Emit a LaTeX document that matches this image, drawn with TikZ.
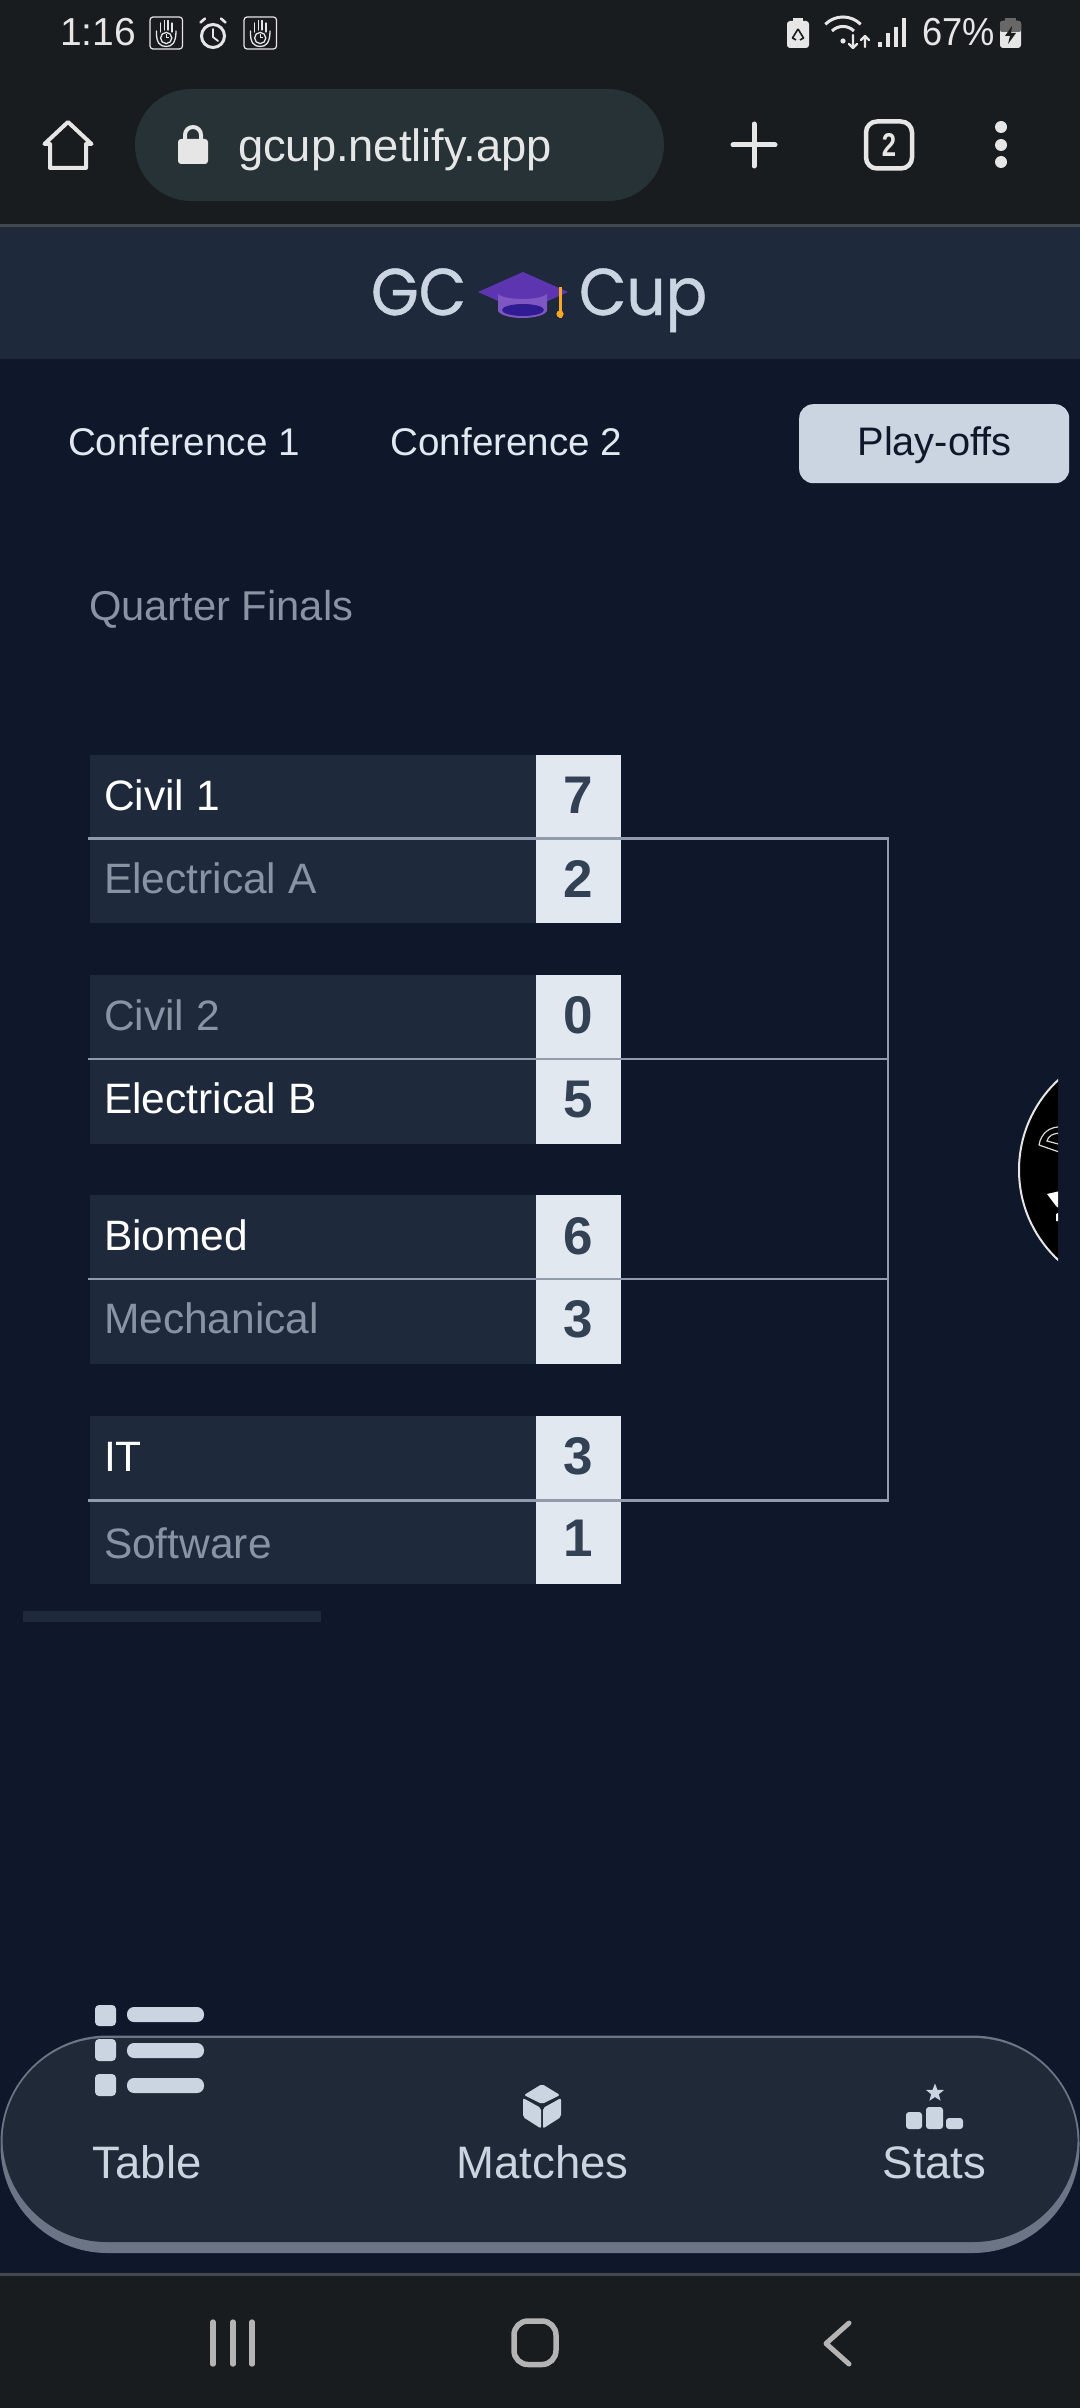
\documentclass[tikz,border=0pt]{standalone}
\usepackage{graphicx}
\usepackage{fontspec}
\setmainfont{Liberation Sans}
\newfontfamily\titlefont[FakeBold=0.7]{Poppins}
\newcommand{\fsz}[1]{\fontsize{#1}{#1}\selectfont}
\definecolor{barbg}{HTML}{191C1E}
\definecolor{urlbg}{HTML}{263236}
\definecolor{pagebg}{HTML}{0F172A}
\definecolor{panel}{HTML}{1E293B}
\definecolor{navbg}{HTML}{1F2937}
\definecolor{slatelt}{HTML}{CBD5E1}
\definecolor{scorebg}{HTML}{E2E8F0}
\definecolor{scoreink}{HTML}{334155}
\definecolor{dim}{HTML}{8A93A3}
\definecolor{rule}{HTML}{929BAB}
\definecolor{sep}{HTML}{41484E}
\definecolor{navedge}{HTML}{6B7585}
\definecolor{syswhite}{HTML}{E6E6E6}
\definecolor{sysgrey}{HTML}{B4B4B4}
\definecolor{capdark}{HTML}{5E35B1}
\definecolor{capmid}{HTML}{7E57C2}
\definecolor{capink}{HTML}{311B92}
\definecolor{tassel}{HTML}{F9A825}
\tikzset{
  txt/.style={anchor=base west,inner sep=0pt,outer sep=0pt},
  mid/.style={anchor=base,inner sep=0pt,outer sep=0pt},
  namebox/.style={anchor=north west,fill=panel,inner sep=0pt,outer sep=0pt,minimum width=446pt},
  scorebox/.style={anchor=north west,fill=scorebg,inner sep=0pt,outer sep=0pt,minimum width=85pt},
  teamfont/.style={font=\fsz{42.5}},
  win/.style={txt,teamfont,text=white},
  lose/.style={txt,teamfont,text=dim},
  score/.style={mid,font=\fsz{53}\bfseries,text=scoreink},
  tab/.style={txt,font=\fsz{38.6},text=scorebg},
  navlabel/.style={mid,font=\fsz{45.5},text=slatelt},
  bline/.style={draw=rule,line width=2.8pt},
  sysline/.style={draw=syswhite,line cap=round,line join=round},
  softkey/.style={draw=sysgrey,line cap=round,line join=round}
}
% id, top, height, label style, label, label baseline, score, score baseline
\newcommand{\teamrow}[8]{%
  \node[namebox,minimum height=#3 pt] (n#1) at (90,#2) {};
  \node[scorebox,minimum height=#3 pt] (s#1) at (536,#2) {};
  \node[#4] (t#1) at (104,#6) {#5};
  \node[score] (v#1) at (578.5,#8) {#7};
}
\newcommand{\handicon}[1]{%
  \begin{scope}[shift={(#1,0)}]
    \draw[syswhite,line width=1.2pt,rounded corners=3pt] (0,17) rectangle (32.5,49);
    \draw[syswhite,line width=1.3pt,line cap=round] (10.5,32) -- (10.5,23) (14.5,30) -- (14.5,20.5) (18,30) -- (18,20.5) (22,32) -- (22,23);
    \draw[syswhite,line width=1.3pt] (16.2,38) circle (5.6);
    \draw[syswhite,line width=1pt] (16.2,34.5) -- (16.2,38) -- (19,38);
    \draw[syswhite,line width=1.3pt,line cap=round] (6.5,31) .. controls (6,43) and (10,46.5) .. (16.2,46.5) .. controls (22,46.5) and (26,43) .. (26,31);
  \end{scope}}
\begin{document}
\begin{tikzpicture}[x=1pt,y=-1pt]
\useasboundingbox (0,0) rectangle (1080,2408);
% backgrounds
\fill[pagebg] (0,0) rectangle (1080,2408);
\fill[barbg] (0,0) rectangle (1080,224);
\fill[sep] (0,224) rectangle (1080,227);
\fill[panel] (0,227) rectangle (1080,359);
\fill[barbg] (0,2273) rectangle (1080,2408);
\fill[sep] (0,2273) rectangle (1080,2276);
% status bar
\node[txt,font=\fsz{39},text=syswhite] (clock) at (60,46) {1:16};
\handicon{150}
\handicon{244}
\draw[syswhite,line width=3pt] (213,36) circle (11.5);
\draw[syswhite,line width=1.8pt,line cap=round] (213,29) -- (213,37) -- (218,41);
\draw[syswhite,line width=2.6pt,line cap=round] (200.5,22.5) -- (205,18.5) (225.5,22.5) -- (221,18.5);
% right status icons
\fill[syswhite,rounded corners=3pt] (787,21) rectangle (809,48);
\fill[syswhite] (793,18) rectangle (803,22);
\draw[barbg,line width=1.6pt,line join=round] (798,29) -- (792.5,38) -- (796,40) (798,29) -- (803.5,38) -- (800,40);
\draw[syswhite,line width=3pt] (825.3,24.3) arc[start angle=-135,end angle=-45,radius=25];
\draw[syswhite,line width=3pt] (832,31) arc[start angle=-135,end angle=-45,radius=15.5];
\fill[syswhite] (843,41) circle (2.6);
\draw[sysline,line width=2.4pt] (853,35) -- (853,48) (849,44) -- (853,48) -- (857,44);
\draw[sysline,line width=2.4pt] (865,47) -- (865,36) (861,40) -- (865,36) -- (869,40);
\draw[sysline,line width=3.6pt,line cap=butt] (880,42) -- (880,47) (888,33) -- (888,47) (896,27) -- (896,47) (904,18) -- (904,47);
\node[txt,font=\fsz{39},text=syswhite] (batt) at (922,46) {\scalebox{0.93}[1]{67\%}};
\fill[syswhite,rounded corners=3pt] (1000,21) rectangle (1021,48);
\fill[black!55!syswhite,rounded corners=2pt] (1000,21) rectangle (1021,32);
\fill[black!55!syswhite] (1005,18) rectangle (1016,22);
\fill[barbg] (1012,26) -- (1005,36) -- (1010,36) -- (1008,44) -- (1016,33) -- (1011,33) -- cycle;
% browser bar
\draw[syswhite,line width=4pt,line join=round] (68,122) -- (44.5,144) -- (50,144) -- (50,168) -- (86,168) -- (86,144) -- (91.5,144) -- cycle;
\fill[urlbg,rounded corners=56pt] (135,89) rectangle (664,201);
\fill[syswhite,rounded corners=3pt] (178,139) rectangle (208,164);
\draw[syswhite,line width=4pt] (185,141) -- (185,135) arc[start angle=180,end angle=360,radius=8] -- (201,141);
\node[txt,font=\fsz{45.3},text=syswhite] (url) at (238,162) {gcup.netlify.app};
\draw[sysline,line width=5pt] (754,124) -- (754,166) (733,145) -- (775,145);
\draw[syswhite,line width=4.5pt,rounded corners=11pt] (866,121.5) rectangle (912,168.5);
\node[mid,font=\fsz{33}\bfseries,text=syswhite] (tabs) at (889,157) {\scalebox{0.78}[1]{2}};
\fill[syswhite] (1001,127) circle (6) (1001,145) circle (6) (1001,162) circle (6);
% title
\node[txt,font=\titlefont\fsz{66},text=slatelt] (gc) at (371,315) {\scalebox{0.93}[1]{GC}};
\node[txt,font=\titlefont\fsz{66},text=slatelt] (cup) at (579,315) {\scalebox{0.93}[1]{Cup}};
\fill[capdark] (478,292) -- (523,272) -- (568,292) -- (523,312) -- cycle;
\fill[capmid] (498,293) arc[start angle=180,end angle=360,x radius=24.5,y radius=-6] -- (547,310) arc[start angle=0,end angle=180,x radius=24.5,y radius=8] -- cycle;
\fill[capink] (523,310) ellipse[x radius=21,y radius=6];
\draw[tassel,line width=3pt] (560,287) -- (560,318);
\fill[tassel] (560,314) circle (3.6);
% tabs
\node[tab] (conf1) at (68,455) {Conference 1};
\node[tab] (conf2) at (390.5,455) {Conference 2};
\node[fill=slatelt,rounded corners=14pt,anchor=north west,minimum width=270pt,minimum height=79pt,inner sep=0pt] (play) at (799,404) {};
\node[mid,font=\fsz{39.8},text=pagebg] (playt) at (934.5,455) {Play-offs};
% heading
\node[txt,font=\fsz{41.7},text=dim] (qf) at (89,620) {Quarter Finals};
% rows
\teamrow{a}{755}{83.5}{win}{Civil 1}{810}{7}{813}
\teamrow{b}{838.5}{84.5}{lose}{Electrical A}{893}{2}{897}
\teamrow{c}{975}{84}{lose}{Civil 2}{1030}{0}{1033}
\teamrow{d}{1059}{85}{win}{Electrical B}{1113}{5}{1117}
\teamrow{e}{1195}{84}{win}{Biomed}{1250}{6}{1254}
\teamrow{f}{1279}{85}{lose}{Mechanical}{1333}{3}{1337}
\teamrow{g}{1416}{84.5}{win}{IT}{1471}{3}{1474}
\teamrow{h}{1500.5}{83.5}{lose}{Software}{1558}{1}{1556}
% bracket
\coordinate (bt) at (888,838.5);
\coordinate (bb) at (888,1500.5);
\draw[bline] (88,838.5) -- (bt) -- (bb) -- (88,1500.5);
\draw[bline] (na.south west) -- (sa.south east) -- (bt);
\draw[bline] (nd.north west) -- (sd.north east) -- (sd.north east -| bt);
\draw[bline] (ne.south west) -- (se.south east) -- (se.south east -| bt);
\draw[bline] (88,1059) -- (nd.north west);
\draw[bline] (88,1279) -- (ne.south west);
% scrollbar
\fill[panel] (23,1611) rectangle (321,1622);
% floating badge
\begin{scope}
  \clip (1000,1060) rectangle (1058,1280);
  \draw[black!10,fill=black,line width=2pt] (1142,1170) circle (123);
  \draw[white!85!black,line width=1.2pt,line join=round] (1062,1153) -- (1039,1145) .. controls (1041,1133) and (1050,1126) .. (1062,1127);
  \draw[white!85!black,line width=1.2pt] (1062,1145) -- (1047,1141) .. controls (1048,1136) and (1053,1133) .. (1062,1133);
  \fill[white] (1047,1194) -- (1060,1191) -- (1060,1209) -- (1056,1206) -- cycle;
  \fill[white] (1056,1214) -- (1060,1212) -- (1060,1221) -- (1056,1221) -- cycle;
\end{scope}
% bottom nav
\fill[navedge,rounded corners=107pt] (0.5,2035.5) rectangle (1079.5,2253);
\fill[navbg,rounded corners=104pt] (2.5,2038) rectangle (1077.5,2242);
% table icon
\fill[slatelt,rounded corners=4pt] (95,2005) rectangle (116,2026) (95,2039) rectangle (116,2061) (95,2074) rectangle (116,2096);
\fill[slatelt,rounded corners=7pt] (127,2007) rectangle (204,2022) (127,2043) rectangle (204,2058) (127,2078) rectangle (204,2093);
% cube icon
\fill[slatelt,rounded corners=2pt] (542,2084) -- (560,2095) -- (542,2104) -- (524,2095) -- cycle;
\fill[slatelt,rounded corners=2pt] (523,2098) -- (541,2108) -- (541,2128.5) -- (523,2117) -- cycle;
\fill[slatelt,rounded corners=2pt] (561,2098) -- (543,2108) -- (543,2128.5) -- (561,2117) -- cycle;
% stats icon
\fill[slatelt] (935,2083.5) -- (937.4,2089.8) -- (944,2090) -- (938.8,2094.2) -- (940.6,2100.7) -- (935,2097) -- (929.4,2100.7) -- (931.2,2094.2) -- (926,2090) -- (932.6,2089.8) -- cycle;
\fill[slatelt,rounded corners=3pt] (906,2112) rectangle (922,2129) (926,2107) rectangle (943,2129) (946,2118) rectangle (963,2129);
\node[navlabel] (ltable) at (147,2178) {Table};
\node[navlabel] (lmatch) at (542.5,2178) {Matches};
\node[navlabel] (lstats) at (934.5,2178) {Stats};
% soft keys
\draw[softkey,line width=5.4pt] (213,2322) -- (213,2364) (233,2322) -- (233,2364) (252,2322) -- (252,2364);
\draw[sysgrey,line width=5.5pt,rounded corners=14pt] (514,2321) rectangle (556,2364.5);
\draw[softkey,line width=5pt] (849,2323) -- (826,2343.5) -- (849,2364);
\end{tikzpicture}
\end{document}
